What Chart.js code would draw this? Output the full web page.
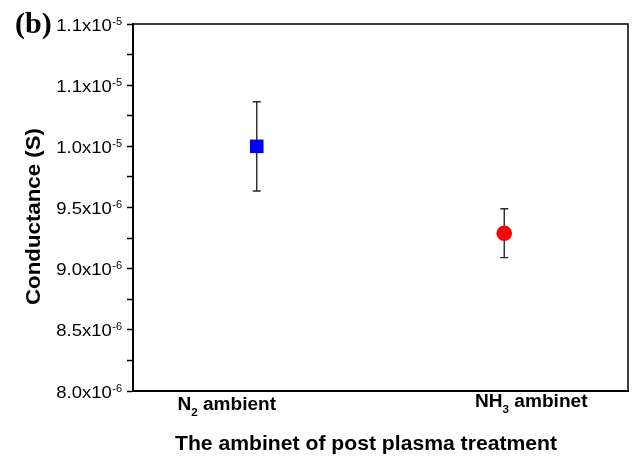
<!DOCTYPE html>
<html><head><meta charset="utf-8">
<script src="https://cdn.jsdelivr.net/npm/chart.js@4.4.0/dist/chart.umd.min.js"></script>
<style>html,body{margin:0;padding:0;background:#fff;} canvas{display:block;}</style>
</head><body>
<canvas id="c" width="632" height="456"></canvas>
<script>
// ---- data ----
const categoryPrefix = ["N", "NH"];
const categorySub = ["2", "3"];
const categorySuffix = [" ambient", " ambinet"];
const conductance = [1.0e-5, 9.29e-6];
const conductanceErr = [3.65e-7, 2.0e-7];
const yTickValues = [8.0e-6, 8.5e-6, 9.0e-6, 9.5e-6, 1.0e-5, 1.05e-5, 1.1e-5];
const yTickMantissa = ["8.0x10", "8.5x10", "9.0x10", "9.5x10", "1.0x10", "1.1x10", "1.1x10"];
const yTickExponent = ["-6", "-6", "-6", "-6", "-5", "-5", "-5"];
const yTitle = "Conductance (S)";
const xTitle = "The ambinet of post plasma treatment";
const panelLabel = "(b)";

// ---- styles ----
const markerColors = ["#0000FF", "#FF0000"];
const markerStyles = ["rect", "circle"];
const markerRadius = [9.6, 7.8];
const SANS = "'Liberation Sans', Arial, sans-serif";
const SERIF = "'Liberation Serif', 'Times New Roman', serif";
const labelShift = [{dx: -30, dy: 1}, {dx: 27, dy: -2}];

function drawScaled(ctx, text, x, y, font, align, sx) {
  ctx.save();
  ctx.font = font;
  ctx.translate(x, y);
  ctx.scale(sx, 1);
  ctx.textAlign = align;
  ctx.textBaseline = 'alphabetic';
  ctx.fillStyle = '#000';
  ctx.fillText(text, 0, 0);
  ctx.restore();
}
function textW(ctx, text, font) { ctx.save(); ctx.font = font; const w = ctx.measureText(text).width; ctx.restore(); return w; }

const errorBars = {
  id: 'errorBars',
  beforeDatasetsDraw(chart) {
    const ctx = chart.ctx, xs = chart.scales.x, ys = chart.scales.y;
    ctx.save();
    ctx.strokeStyle = '#2a2a2a';
    ctx.lineWidth = 1.4;
    conductance.forEach((v, i) => {
      const px = xs.getPixelForValue(i + 0.5);
      const top = ys.getPixelForValue(v + conductanceErr[i]);
      const bot = ys.getPixelForValue(v - conductanceErr[i]);
      ctx.beginPath();
      ctx.moveTo(px, top); ctx.lineTo(px, bot);
      ctx.moveTo(px - 4, top); ctx.lineTo(px + 4, top);
      ctx.moveTo(px - 4, bot); ctx.lineTo(px + 4, bot);
      ctx.stroke();
    });
    ctx.restore();
  }
};

const decorations = {
  id: 'decorations',
  afterDraw(chart) {
    const ctx = chart.ctx, a = chart.chartArea, xs = chart.scales.x, ys = chart.scales.y;
    // frame top / right
    ctx.save();
    ctx.strokeStyle = '#000';
    ctx.lineWidth = 1.5;
    ctx.beginPath();
    ctx.moveTo(a.left, a.top); ctx.lineTo(a.right, a.top); ctx.lineTo(a.right, a.bottom);
    ctx.stroke();
    ctx.restore();

    // y tick labels with superscript exponent
    const mainFont = "16.5px " + SANS, supFont = "11px " + SANS;
    const rightEdge = a.left - 11;
    yTickValues.forEach((v, i) => {
      const py = ys.getPixelForValue(v);
      const sw = textW(ctx, yTickExponent[i], supFont);
      drawScaled(ctx, yTickExponent[i], rightEdge, py + 0.5, supFont, 'right', 1);
      drawScaled(ctx, yTickMantissa[i], rightEdge - sw - 0.5, py + 6.5, mainFont, 'right', 1.12);
    });

    // x category labels with subscript
    const bFont = "bold 18px " + SANS, sFont = "bold 11px " + SANS, sx = 1.06;
    categoryPrefix.forEach((p, i) => {
      const cx = xs.getPixelForValue(i + 0.5) + labelShift[i].dx;
      const base = a.bottom + 18 + labelShift[i].dy;
      const w1 = textW(ctx, p, bFont) * sx, w2 = textW(ctx, categorySub[i], sFont) * sx, w3 = textW(ctx, categorySuffix[i], bFont) * sx;
      let x = cx - (w1 + w2 + w3) / 2;
      drawScaled(ctx, p, x, base, bFont, 'left', sx); x += w1;
      drawScaled(ctx, categorySub[i], x, base + 6, sFont, 'left', sx); x += w2;
      drawScaled(ctx, categorySuffix[i], x, base, bFont, 'left', sx);
    });

    // x axis title
    const tFont = "bold 20px " + SANS;
    const tsx = 382 / textW(ctx, xTitle, tFont);
    drawScaled(ctx, xTitle, (a.left + a.right) / 2 - 14.5, a.bottom + 59, tFont, 'center', tsx);

    // y axis title (rotated)
    const yFont = "bold 19.5px " + SANS;
    const ysx = 177 / textW(ctx, yTitle, yFont);
    ctx.save();
    ctx.translate(40, (a.top + a.bottom) / 2 + 9);
    ctx.rotate(-Math.PI / 2);
    drawScaled(ctx, yTitle, 0, 0, yFont, 'center', ysx);
    ctx.restore();

    // panel label
    drawScaled(ctx, panelLabel, 15, 33, "bold 30px " + SERIF, 'left', 1);
  }
};

new Chart(document.getElementById('c'), {
  type: 'scatter',
  data: {
    datasets: [{
      data: conductance.map((v, i) => ({x: i + 0.5, y: v})),
      pointStyle: markerStyles,
      pointRadius: markerRadius,
      pointHoverRadius: markerRadius,
      backgroundColor: markerColors,
      borderColor: markerColors,
      borderWidth: 0
    }]
  },
  options: {
    responsive: false,
    animation: false,
    devicePixelRatio: 1,
    layout: {autoPadding: false, padding: {top: 24, right: 4, left: 0, bottom: 0}},
    plugins: {legend: {display: false}, tooltip: {enabled: false}},
    scales: {
      x: {
        type: 'linear', min: 0, max: 2,
        ticks: {display: false},
        grid: {drawOnChartArea: false, drawTicks: false},
        border: {display: true, color: '#000', width: 2},
        afterFit(s) { s.height = 65; }
      },
      y: {
        type: 'linear', min: 8.0e-6, max: 1.1e-5,
        ticks: {display: false},
        grid: {drawOnChartArea: false, drawTicks: true, tickLength: 6, tickColor: '#000', tickWidth: 1.5},
        border: {display: true, color: '#000', width: 2},
        afterBuildTicks(s) {
          const t = [];
          for (let i = 0; i < yTickValues.length; i++) {
            t.push({value: yTickValues[i]});
            if (i < yTickValues.length - 1) t.push({value: (yTickValues[i] + yTickValues[i + 1]) / 2});
          }
          s.ticks = t;
        },
        afterFit(s) { s.width = 133; }
      }
    }
  },
  plugins: [errorBars, decorations]
});
</script>
</body></html>
